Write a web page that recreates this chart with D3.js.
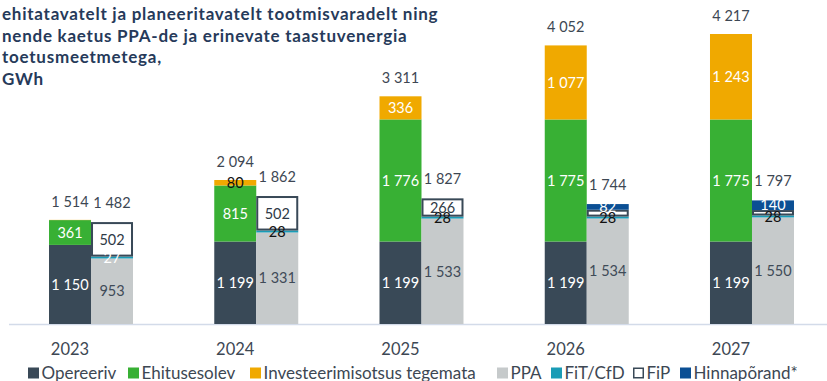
<!DOCTYPE html>
<html>
<head>
<meta charset="utf-8">
<script src="https://cdn.jsdelivr.net/npm/d3@7"></script>
<style>
  body { margin: 0; background: #fff; }
  svg { display: block; }
  text { font-family: Lato, "Open Sans", sans-serif; }
</style>
</head>
<body>
<svg id="chart" width="827" height="381"></svg>
<script>
// Capacity by year, GWh
const years = ["2023", "2024", "2025", "2026", "2027"];

// Left stack: project status
const opereeriv      = [1150, 1199, 1199, 1199, 1199];
const ehitusesolev   = [361, 815, 1776, 1775, 1775];
const investeerimata = [3, 80, 336, 1077, 1243];

// Right stack: coverage by PPA and support schemes
const ppa         = [953, 1331, 1533, 1534, 1550];
const fitCfd      = [27, 28, 28, 28, 28];
const fip         = [502, 502, 266, 100, 79];
const hinnaporand = [0, 0, 0, 82, 140];

// Stack totals as printed above the bars
const totalsLeft  = [1514, 2094, 3311, 4052, 4217];
const totalsRight = [1482, 1862, 1827, 1744, 1797];

const titleLines = [
  "ehitatavatelt ja planeeritavatelt tootmisvaradelt ning",
  "nende kaetus PPA-de ja erinevate taastuvenergia",
  "toetusmeetmetega,",
  "GWh"
];

const series = [
  { key: "ope", name: "Opereeriv", values: opereeriv, side: "left", fill: "#394957", label: "#ffffff" },
  { key: "ehi", name: "Ehitusesolev", values: ehitusesolev, side: "left", fill: "#38b034", label: "#ffffff" },
  { key: "inv", name: "Investeerimisotsus tegemata", values: investeerimata, side: "left", fill: "#f0a900", label: "#ffffff" },
  { key: "ppa", name: "PPA", values: ppa, side: "right", fill: "#c6cacb", label: "#3f4b58" },
  { key: "fit", name: "FiT/CfD", values: fitCfd, side: "right", fill: "#1a9cb6", label: "#111111" },
  { key: "fip", name: "FiP", values: fip, side: "right", fill: "#ffffff", stroke: "#394957", label: "#2f3a46" },
  { key: "hin", name: "Hinnapõrand*", values: hinnaporand, side: "right", fill: "#0b4f94", label: "#ffffff" }
];

// Per-point label tweaks: hidden labels and colour overrides (by year index)
const hiddenLabels = { inv: [0], fip: [3, 4], hin: [0, 1, 2] };
const labelColorOverride = { inv: { 1: "#111111" }, fit: { 0: "#ffffff" } };

const svg = d3.select("#chart");
const baseline = 324;

const x0 = d3.scaleBand()
  .domain(years)
  .range([8.4, 834.6])
  .paddingInner(0.4917)
  .paddingOuter(0.2458);

const x1 = d3.scaleBand()
  .domain(["left", "right"])
  .range([0, x0.bandwidth()]);

const y = d3.scaleLinear()
  .domain([0, 4217])
  .range([baseline, 34]);

const fmt = d3.formatLocale({ decimal: ",", thousands: "\u00a0", grouping: [3], currency: ["", ""] }).format(",d");

// Build stacked segments per side
const segments = [];
["left", "right"].forEach(side => {
  const sideSeries = series.filter(s => s.side === side);
  years.forEach((yr, i) => {
    let acc = 0;
    sideSeries.forEach(s => {
      const v = s.values[i];
      segments.push({ s, i, yr, side, v, y0: acc, y1: acc + v });
      acc += v;
    });
  });
});

// Axis baseline
svg.append("line")
  .attr("x1", 9).attr("x2", 827)
  .attr("y1", baseline + 0.5).attr("y2", baseline + 0.5)
  .attr("stroke", "#d3dbe9").attr("stroke-width", 1.6);

// Bars
const bars = svg.append("g");
bars.selectAll("rect")
  .data(segments.filter(d => d.v > 0))
  .join("rect")
  .attr("x", d => x0(d.yr) + x1(d.side) + (d.s.stroke ? 1 : 0))
  .attr("width", d => x1.bandwidth() - (d.s.stroke ? 2 : 0))
  .attr("y", d => y(d.y1) + (d.s.stroke ? 1 : 0))
  .attr("height", d => Math.max(0, y(d.y0) - y(d.y1) - (d.s.stroke ? 2 : 0)))
  .attr("fill", d => d.s.fill)
  .attr("stroke", d => d.s.stroke || "none")
  .attr("stroke-width", d => d.s.stroke ? 2 : 0);

// Segment value labels
const labels = svg.append("g")
  .attr("font-size", 14.5)
  .attr("text-anchor", "middle");
labels.selectAll("text")
  .data(segments.filter(d => d.v > 0 && !(hiddenLabels[d.s.key] || []).includes(d.i)))
  .join("text")
  .attr("x", d => x0(d.yr) + x1(d.side) + x1.bandwidth() / 2)
  .attr("y", d => (y(d.y0) + y(d.y1)) / 2)
  .attr("dy", "0.36em")
  .attr("fill", d => (labelColorOverride[d.s.key] || {})[d.i] || d.s.label)
  .text(d => fmt(d.v));

// Totals above each stack
const totals = svg.append("g")
  .attr("font-size", 14.5)
  .attr("text-anchor", "middle")
  .attr("fill", "#3d4753");
years.forEach((yr, i) => {
  totals.append("text")
    .attr("x", x0(yr) + x1("left") + x1.bandwidth() / 2)
    .attr("y", y(totalsLeft[i]) - 13)
    .text(fmt(totalsLeft[i]));
  totals.append("text")
    .attr("x", x0(yr) + x1("right") + x1.bandwidth() / 2)
    .attr("y", y(totalsRight[i]) - 14)
    .text(fmt(totalsRight[i]));
});

// Category labels, centred under the left bar
svg.append("g")
  .attr("font-size", 16.5)
  .attr("text-anchor", "middle")
  .attr("fill", "#3d4753")
  .selectAll("text")
  .data(years)
  .join("text")
  .attr("x", d => x0(d) + x1("left") + x1.bandwidth() / 2)
  .attr("y", 355)
  .text(d => d);

// Title
svg.append("text")
  .attr("font-size", 17)
  .attr("font-weight", 700)
  .attr("letter-spacing", 0.75)
  .attr("fill", "#263a5a")
  .selectAll("tspan")
  .data(titleLines)
  .join("tspan")
  .attr("x", 2)
  .attr("y", (d, i) => 20 + i * 21.7)
  .text(d => d);

// Legend
const legendX = [28, 128, 250, 497, 551, 633, 680];
const legend = svg.append("g").attr("font-size", 17).attr("fill", "#3d4753");
series.forEach((s, i) => {
  const g = legend.append("g").attr("transform", `translate(${legendX[i]},367.5)`);
  g.append("rect")
    .attr("x", s.stroke ? 0.75 : 0).attr("y", s.stroke ? 0.75 : 0)
    .attr("width", s.stroke ? 9.5 : 11).attr("height", s.stroke ? 9.5 : 11)
    .attr("fill", s.fill)
    .attr("stroke", s.stroke || "none")
    .attr("stroke-width", s.stroke ? 1.5 : 0);
  g.append("text").attr("x", 13.5).attr("y", 11.5).text(s.name);
});
</script>
</body>
</html>
